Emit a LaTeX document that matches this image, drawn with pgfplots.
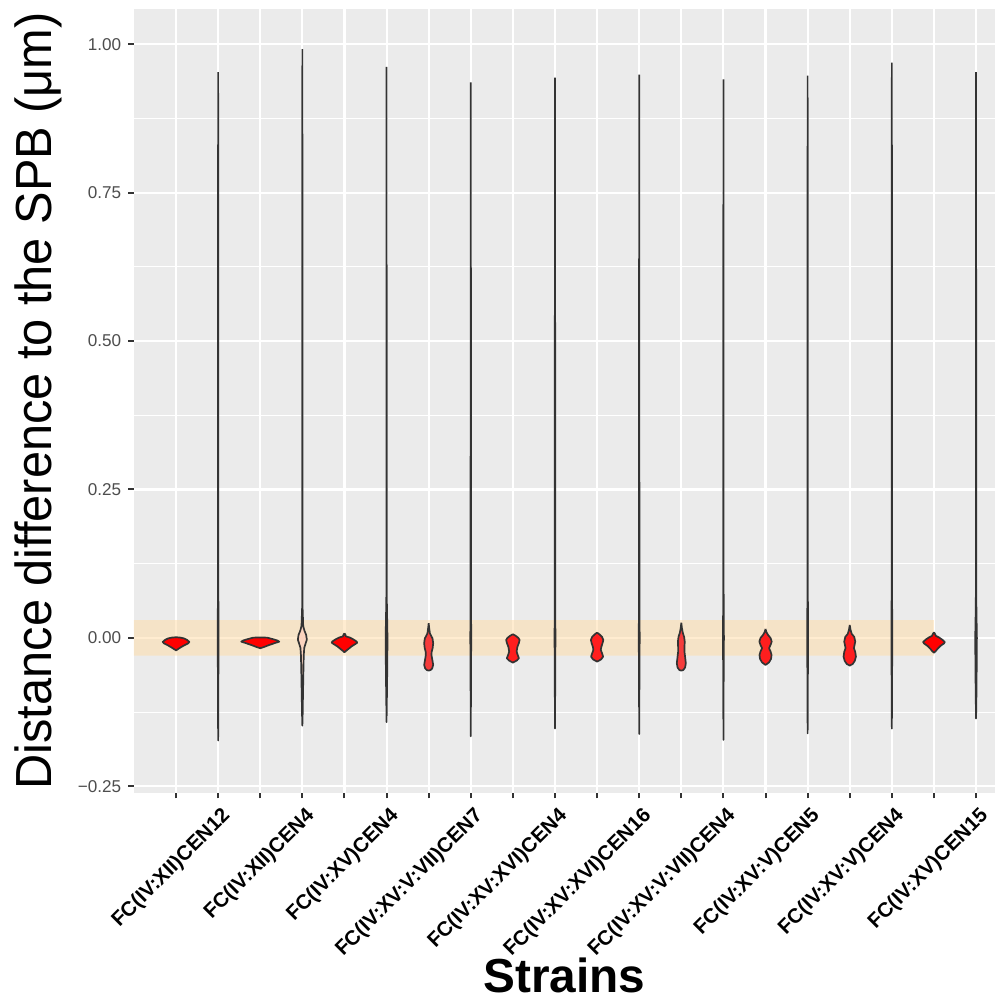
\documentclass[border=0pt]{standalone}
\usepackage{fontspec}
\setmainfont{Liberation Sans}
\newfontfamily\ylabfont[FakeStretch=0.96]{Liberation Sans}
\usepackage{pgfplots}
\pgfplotsset{compat=1.18}
\definecolor{panelgrey}{HTML}{EBEBEB}
\definecolor{grey20}{HTML}{333333}
\definecolor{tickgrey}{HTML}{4D4D4D}
\definecolor{bandcol}{RGB}{255,222,170}
\definecolor{vred}{HTML}{FF0000}
\definecolor{vred2}{HTML}{FF1E1E}
\definecolor{vred3}{HTML}{F53C3C}
\definecolor{vpeach}{HTML}{FBD3BE}
\pgfplotsset{violin/.style={draw=grey20, line width=0.85pt, line join=round, forget plot}}
% #1 position, #2 list of y/halfwidth (top to bottom), #3 fill colour
\newcommand\violin[3]{%
  \gdef\vR{}\gdef\vL{}%
  \foreach \yy/\ww in {#2}{%
    \xdef\vR{\vR(\fpeval{#1+\ww},\yy)}%
    \xdef\vL{(\fpeval{#1-\ww},\yy)\vL}%
  }%
  \edef\vtmp{\noexpand\addplot[violin,fill=#3] coordinates {\vR\vL};}%
  \vtmp
}
\begin{document}
\begin{tikzpicture}
\begin{axis}[
  at={(0,0)}, anchor=south west,
  scale only axis, width=432.7pt, height=393.8pt,
  xmin=0, xmax=20.45, ymin=-0.2608, ymax=1.0595,
  axis background/.style={fill=panelgrey},
  axis line style={draw=none},
  xtick={1,...,20},
  xticklabels={{},FC(IV:XII)CEN12,{},FC(IV:XII)CEN4,{},FC(IV:XV)CEN4,{},FC(IV:XV:V:VII)CEN7,{},FC(IV:XV:XVI)CEN4,{},FC(IV:XV:XVI)CEN16,{},FC(IV:XV:V:VII)CEN4,{},FC(IV:XV:V)CEN5,{},FC(IV:XV:V)CEN4,{},FC(IV:XV)CEN15},
  ytick={-0.25,0,0.25,0.5,0.75,1},
  yticklabels={−0.25,0.00,0.25,0.50,0.75,1.00},
  minor ytick={-0.125,0.125,0.375,0.625,0.875},
  grid=both,
  major grid style={white, line width=1.07pt},
  minor grid style={white, line width=0.53pt},
  tick align=outside, tick pos=left,
  major tick length=2.9pt, minor tick length=0pt,
  tick style={draw=grey20, line width=1pt},
  yticklabel style={font=\fontsize{8.6}{10}\selectfont, text=tickgrey},
  xticklabel style={font=\fontsize{10.3}{12}\selectfont\bfseries, rotate=45, anchor=north east, xshift=1.5pt, text=black},
  xlabel={Strains},
  xlabel style={font=\fontsize{24}{28}\selectfont\bfseries, at={(axis description cs:0.5,-0.2545)}, anchor=base},
  ylabel={Distance difference to the SPB (μm)},
  ylabel style={font=\ylabfont\fontsize{25.5}{30}\selectfont, at={(axis description cs:-0.0952,0.5)}, anchor=base},
]
\addplot[fill=bandcol, fill opacity=0.55, draw=none, forget plot] coordinates {(0,-0.03) (19,-0.03) (19,0.03) (0,0.03) (0,-0.03)};
% red violins
\violin{1}{0.0010/0, 0.0005/0.095, -0.0010/0.19, -0.0035/0.261, -0.0069/0.316, -0.0094/0.285, -0.0128/0.19, -0.0162/0.107, -0.0195/0.036, -0.0212/0}{vred}
\violin{3}{0.0007/0, 0.0003/0.166, -0.0019/0.285, -0.0044/0.404, -0.0064/0.451, -0.0086/0.356, -0.0120/0.214, -0.0153/0.095, -0.0175/0}{vred}
\violin{5}{0.0077/0, 0.0057/0.019, 0.0024/0.036, 0.0007/0.119, -0.0027/0.214, -0.0061/0.285, -0.0081/0.304, -0.0103/0.261, -0.0145/0.166, -0.0187/0.095, -0.0221/0.036, -0.0243/0}{vred}
\violin{7}{0.0246/0, 0.0167/0.012, 0.0077/0.029, 0.0032/0.059, -0.0007/0.090, -0.0091/0.107, -0.0170/0.095, -0.0238/0.071, -0.0288/0.067, -0.0355/0.083, -0.0456/0.107, -0.0516/0.083, -0.0541/0.048, -0.0553/0}{vred3}
\violin{9}{0.0061/0, 0.0032/0.071, -0.0002/0.131, -0.0035/0.159, -0.0086/0.143, -0.0153/0.107, -0.0232/0.088, -0.0288/0.114, -0.0344/0.143, -0.0381/0.095, -0.0418/0}{vred2}
\violin{11}{0.0088/0, 0.0057/0.059, 0.0015/0.119, -0.0035/0.147, -0.0086/0.131, -0.0153/0.1, -0.0204/0.088, -0.0263/0.119, -0.0317/0.143, -0.0364/0.095, -0.0401/0}{vred2}
\violin{13}{0.0256/0, 0.0167/0.014, 0.0083/0.036, 0.0015/0.067, -0.0064/0.081, -0.0153/0.076, -0.0238/0.076, -0.0322/0.090, -0.0428/0.107, -0.0499/0.090, -0.0541/0.048, -0.0553/0}{vred3}
\violin{15}{0.0150/0, 0.0099/0.019, 0.0049/0.059, -0.0002/0.119, -0.0064/0.147, -0.0120/0.119, -0.0175/0.083, -0.0229/0.119, -0.0288/0.143, -0.0355/0.131, -0.0414/0.083, -0.0457/0}{vred2}
\violin{17}{0.0217/0, 0.0133/0.019, 0.0066/0.048, 0.0015/0.107, -0.0064/0.131, -0.0120/0.114, -0.0175/0.1, -0.0238/0.131, -0.0317/0.147, -0.0389/0.119, -0.0440/0.071, -0.0468/0}{vred2}
\violin{19}{0.0094/0, 0.0066/0.024, 0.0032/0.048, 0.0007/0.119, -0.0027/0.19, -0.0069/0.257, -0.0094/0.238, -0.0136/0.154, -0.0187/0.083, -0.0229/0.036, -0.0249/0}{vred}
% thin violins
\violin{2}{0.953/0, 0.5/0.004, 0.08/0.005, 0.02/0.009, 0/0.012, -0.02/0.009, -0.08/0.005, -0.173/0}{vpeach}
\violin{4}{0.992/0, 0.5/0.004, 0.05/0.006, 0.02/0.02, 0.012/0.05, 0.005/0.09, -0.003/0.107, -0.01/0.075, -0.017/0.045, -0.03/0.033, -0.06/0.024, -0.1/0.014, -0.13/0.007, -0.148/0}{vpeach}
\violin{6}{0.962/0, 0.3/0.004, 0.07/0.005, 0.04/0.012, 0/0.022, -0.04/0.018, -0.09/0.01, -0.142/0}{vpeach}
\violin{8}{0.936/0, 0.5/0.004, 0.08/0.005, 0.02/0.009, 0/0.012, -0.02/0.009, -0.08/0.005, -0.166/0}{vpeach}
\violin{10}{0.944/0, 0.5/0.004, 0.08/0.005, 0.02/0.009, 0/0.012, -0.02/0.009, -0.08/0.005, -0.153/0}{vpeach}
\violin{12}{0.949/0, 0.5/0.004, 0.08/0.005, 0.02/0.009, 0/0.012, -0.02/0.009, -0.08/0.005, -0.162/0}{vpeach}
\violin{14}{0.941/0, 0.5/0.004, 0.08/0.005, 0.02/0.009, 0/0.012, -0.02/0.009, -0.08/0.005, -0.172/0}{vpeach}
\violin{16}{0.947/0, 0.5/0.004, 0.08/0.005, 0.02/0.009, 0/0.012, -0.02/0.009, -0.08/0.005, -0.161/0}{vpeach}
\violin{18}{0.969/0, 0.5/0.004, 0.08/0.005, 0.02/0.009, 0/0.012, -0.02/0.009, -0.08/0.005, -0.153/0}{vpeach}
\violin{20}{0.953/0, 0.3/0.004, 0.07/0.005, 0.04/0.01, 0/0.02, -0.05/0.015, -0.1/0.008, -0.136/0}{vpeach}
\end{axis}
\pgfresetboundingbox
\path[use as bounding box] (-67.3pt,-103.2pt) rectangle (432.7pt,398.3pt);
\end{tikzpicture}
\end{document}
